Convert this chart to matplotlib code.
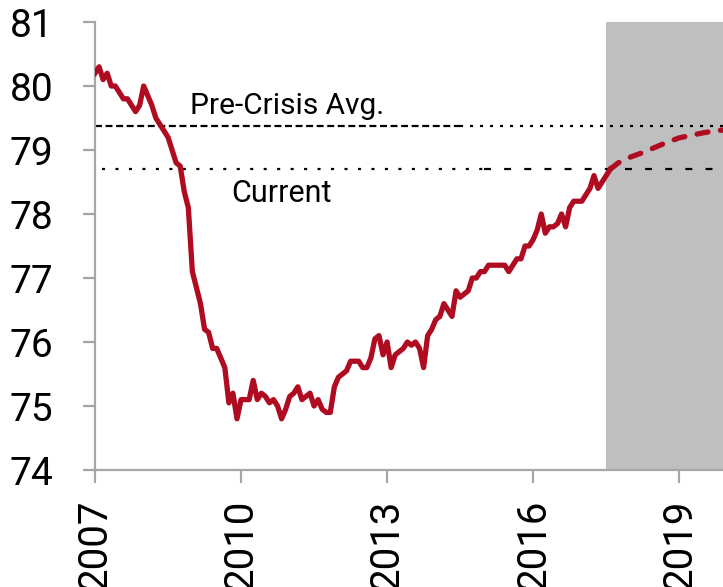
import numpy as np
import matplotlib
matplotlib.use("Agg")
import matplotlib.pyplot as plt

plt.rcParams['font.family'] = ['Roboto', 'DejaVu Sans']
plt.rcParams['lines.scale_dashes'] = False

# monthly ratio, Jan 2007 onwards
y2007 = [80.2, 80.3, 80.1, 80.2, 80.0, 80.0, 79.9, 79.8, 79.8, 79.7, 79.6, 79.7]
y2008 = [80.0, 79.85, 79.7, 79.5, 79.4, 79.3, 79.2, 79.0, 78.8, 78.75, 78.35, 78.1]
y2009 = [77.1, 76.85, 76.6, 76.2, 76.15, 75.9, 75.9, 75.75, 75.6, 75.05, 75.2, 74.8]
y2010 = [75.1, 75.1, 75.1, 75.4, 75.1, 75.2, 75.15, 75.05, 75.1, 75.0, 74.8, 74.95]
y2011 = [75.15, 75.2, 75.3, 75.1, 75.15, 75.2, 75.0, 75.1, 74.95, 74.9, 74.9, 75.3]
y2012 = [75.45, 75.5, 75.55, 75.7, 75.7, 75.7, 75.6, 75.6, 75.75, 76.05, 76.1, 75.8]
y2013 = [76.0, 75.6, 75.8, 75.85, 75.9, 76.0, 75.95, 76.0, 75.9, 75.6, 76.1, 76.2]
y2014 = [76.35, 76.4, 76.6, 76.5, 76.4, 76.8, 76.7, 76.75, 76.8, 77.0, 77.0, 77.1]
y2015 = [77.1, 77.2, 77.2, 77.2, 77.2, 77.2, 77.1, 77.2, 77.3, 77.3, 77.5, 77.5]
y2016 = [77.6, 77.75, 78.0, 77.7, 77.8, 77.8, 77.85, 78.0, 77.8, 78.1, 78.2, 78.2]
y2017 = [78.2, 78.3, 78.4, 78.6, 78.4, 78.5, 78.6, 78.7]

# projection path
proj_x = [2017.583, 2017.75, 2018.0, 2018.25, 2018.5, 2018.75, 2019.0, 2019.25, 2019.5, 2019.75, 2020.0]
proj_y = [78.7, 78.8, 78.89, 78.96, 79.04, 79.12, 79.19, 79.23, 79.27, 79.3, 79.32]

pre_crisis_avg = 79.37
current = 78.7
forecast_start = 2017.5
year_ticks = [2007, 2010, 2013, 2016, 2019]

hist_y = y2007 + y2008 + y2009 + y2010 + y2011 + y2012 + y2013 + y2014 + y2015 + y2016 + y2017
hist_x = 2007 + np.arange(len(hist_y)) / 12.0

red = '#AF0B21'
spine_gray = '#A6A6A6'

fig = plt.figure(figsize=(7.23, 5.87), dpi=100)
ax = fig.add_axes([0.1314, 0.1993, 0.8686, 0.7632])

ax.axvspan(forecast_start, 2021, color='#BFBFBF', lw=0, zorder=0)

# reference lines (each switches style part way across)
ax.plot([2007, 2014.5], [pre_crisis_avg] * 2, color='black', lw=1.6, dashes=(5, 2.6), zorder=2)
ax.plot([2014.5, 2021], [pre_crisis_avg] * 2, color='black', lw=1.6, dashes=(2.2, 5), zorder=2)
ax.plot([2007.15, 2015.0], [current] * 2, color='black', lw=1.6, dashes=(2.2, 7.5), zorder=2)
ax.plot([2015.0, 2021], [current] * 2, color='black', lw=1.6, dashes=(5, 9.5), zorder=2)

ax.plot(hist_x, hist_y, color=red, lw=3.8, solid_joinstyle='round', zorder=3)
ax.plot(proj_x, proj_y, color=red, lw=3.8, dashes=(8, 9), dash_capstyle='round', zorder=3)

ax.text(2008.95, 79.47, 'Pre-Crisis Avg.', fontsize=21.5, ha='left', va='bottom')
ax.text(2009.8, 78.55, 'Current', fontsize=22, ha='left', va='top')

ax.set_xlim(2007, 2019.9)
ax.set_ylim(74, 81)
ax.set_xticks(year_ticks)
ax.set_xticklabels([str(y) for y in year_ticks], rotation=90)
ax.set_yticks(range(74, 82))

for side in ['top', 'right']:
    ax.spines[side].set_visible(False)
for side in ['left', 'bottom']:
    ax.spines[side].set_color(spine_gray)
    ax.spines[side].set_linewidth(1.6)
ax.tick_params(axis='both', direction='out', length=9, width=1.6, color=spine_gray)
ax.tick_params(axis='y', pad=21, labelsize=28)
ax.tick_params(axis='x', pad=12, labelsize=29)

fig.savefig('out.png', dpi=100)
